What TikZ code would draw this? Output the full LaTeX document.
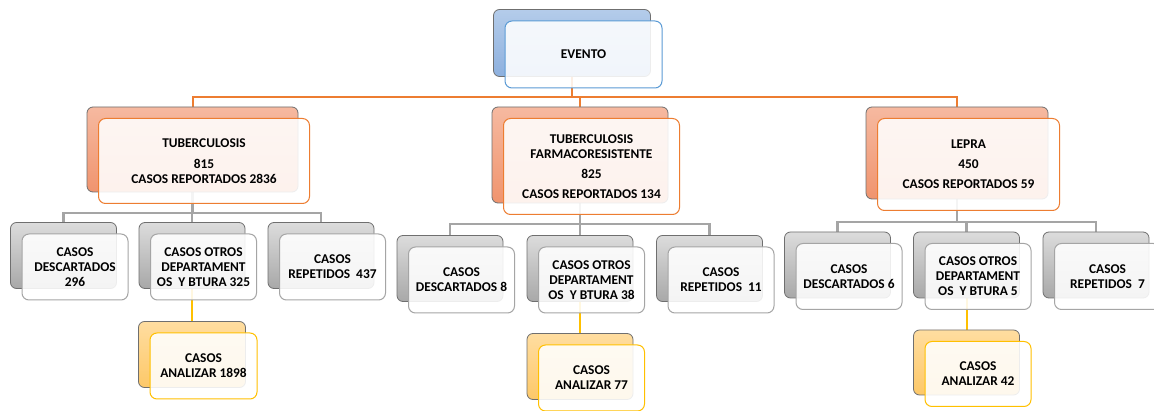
\documentclass[tikz,border=0pt]{standalone}
\usepackage{fontspec}
\setmainfont{Carlito}[BoldFont={Carlito Bold}]
\usetikzlibrary{calc}
\pgfdeclarelayer{paper}
\pgfdeclarelayer{links}
\pgfsetlayers{paper,links,main}

\definecolor{edgegray}{HTML}{6F6F6F}
\definecolor{txt}{HTML}{000000}
\definecolor{blueA}{HTML}{B4CCEA}
\definecolor{blueB}{HTML}{8DB0DE}
\definecolor{blueL}{HTML}{5B9BD5}
\definecolor{orgA}{HTML}{F6B9A0}
\definecolor{orgB}{HTML}{F0946E}
\definecolor{orgL}{HTML}{ED7D31}
\definecolor{grayA}{HTML}{DCDCDC}
\definecolor{grayB}{HTML}{A8A8A8}
\definecolor{grayL}{HTML}{A5A5A5}
\definecolor{yelA}{HTML}{FFDDA0}
\definecolor{yelB}{HTML}{FDC868}
\definecolor{yelL}{HTML}{FFC000}

\tikzset{
  backbox/.style={draw=edgegray, line width=0.8pt, rounded corners=6pt, inner sep=0pt},
  frontbox/.style={line width=1pt, rounded corners=7pt, fill=white, fill opacity=0.88,
    text opacity=1, inner sep=0pt, text=txt, align=center,
    font=\fontsize{13.4}{15}\selectfont\bfseries},
  blueback/.style={backbox, top color=blueA, bottom color=blueB},
  bluefront/.style={frontbox, draw=blueL},
  orgback/.style={backbox, top color=orgA, bottom color=orgB},
  orgfront/.style={frontbox, draw=orgL},
  grayback/.style={backbox, top color=grayA, bottom color=grayB},
  grayfront/.style={frontbox, draw=grayL},
  yelback/.style={backbox, top color=yelA, bottom color=yelB},
  yelfront/.style={frontbox, draw=yelL},
  orgwire/.style={draw=orgL, line width=2pt},
  graywire/.style={draw=grayL, line width=2.6pt},
  yelwire/.style={draw=yelL, line width=2pt},
}

% #1 name, #2 cx, #3 cy, #4 width, #5 height, #6 colour kind, #7 label
\newcommand\twobox[7]{%
  \node[#6back, minimum width=#4pt, minimum height=#5pt] (#1) at (#2,#3) {};
  \node[#6front, minimum width=#4pt, minimum height=#5pt] (#1f) at ($(#1)+(11.5,11.5)$) {#7};
}

\begin{document}
\begin{tikzpicture}[x=1pt,y=-1pt]
\useasboundingbox (0,0) rectangle (1154,411);
\begin{pgfonlayer}{paper}
  \fill[white] (0,0) rectangle (1154,411);
\end{pgfonlayer}

% root
\twobox{ev}{572}{43}{157}{67}{blue}{EVENTO}

% first level
\twobox{tb}{192.5}{149.5}{211}{85}{org}{TUBERCULOSIS\\[6pt]815\\CASOS REPORTADOS 2836}
\twobox{tf}{580}{155}{176}{96}{org}{TUBERCULOSIS\\FARMACORESISTENTE\\[5pt]825\\[5pt]CASOS REPORTADOS 134}
\twobox{lp}{957}{153}{182}{92}{org}{LEPRA\\[5pt]450\\[5pt]CASOS REPORTADOS 59}

% tuberculosis branch
\twobox{a1}{63.5}{255.5}{106}{66}{gray}{CASOS\\DESCARTADOS\\296}
\twobox{a2}{192}{255.5}{106}{66}{gray}{CASOS OTROS\\DEPARTAMENT\\OS\ \ Y BTURA 325}
\twobox{a3}{321}{255.5}{106}{66}{gray}{CASOS\\REPETIDOS\ \ 437}
\twobox{ay}{192}{354.5}{107}{66}{yel}{CASOS\\ANALIZAR 1898}

% drug-resistant tuberculosis branch
\twobox{b1}{450}{268.5}{106}{66}{gray}{CASOS\\DESCARTADOS 8}
\twobox{b2}{580}{268.5}{106}{66}{gray}{CASOS OTROS\\DEPARTAMENT\\OS\ \ Y BTURA 38}
\twobox{b3}{709.5}{268.5}{106}{66}{gray}{CASOS\\REPETIDOS\ \ 11}
\twobox{by}{580}{366.5}{106}{66}{yel}{CASOS\\ANALIZAR 77}

% leprosy branch
\twobox{c1}{837.5}{265}{106}{66}{gray}{CASOS\\DESCARTADOS 6}
\twobox{c2}{966.5}{265}{106}{66}{gray}{CASOS OTROS\\DEPARTAMENT\\OS\ \ Y BTURA 5}
\twobox{c3}{1096}{265}{106}{66}{gray}{CASOS\\REPETIDOS\ \ 7}
\twobox{cy}{966.5}{362.5}{106}{65}{yel}{CASOS\\ANALIZAR 42}

% connectors, drawn underneath the boxes
\coordinate (l0) at (0,97);
\coordinate (la) at (0,213);
\coordinate (lb) at (0,224);
\coordinate (lc) at (0,222);
\begin{pgfonlayer}{links}
  \draw[orgwire] (ev.south) -- (ev.south |- l0);
  \draw[orgwire] (ev.south |- l0) -| (tb.north);
  \draw[orgwire] (ev.south |- l0) -| (tf.north);
  \draw[orgwire] (ev.south |- l0) -| (lp.north);

  \draw[graywire] (tb.south) -- (tb.south |- la);
  \draw[graywire] (tb.south |- la) -| (a1.north);
  \draw[graywire] (tb.south |- la) -| (a2.north);
  \draw[graywire] (tb.south |- la) -| (a3.north);
  \draw[yelwire] (a2.south) -- (ay.north);

  \draw[graywire] (tf.south) -- (tf.south |- lb);
  \draw[graywire] (tf.south |- lb) -| (b1.north);
  \draw[graywire] (tf.south |- lb) -| (b2.north);
  \draw[graywire] (tf.south |- lb) -| (b3.north);
  \draw[yelwire] (b2.south) -- (by.north);

  \draw[graywire] (lp.south) -- (lp.south |- lc);
  \draw[graywire] (lp.south |- lc) -| (c1.north);
  \draw[graywire] (lp.south |- lc) -| (c2.north);
  \draw[graywire] (lp.south |- lc) -| (c3.north);
  \draw[yelwire] (c2.south) -- (cy.north);
\end{pgfonlayer}
\end{tikzpicture}
\end{document}
